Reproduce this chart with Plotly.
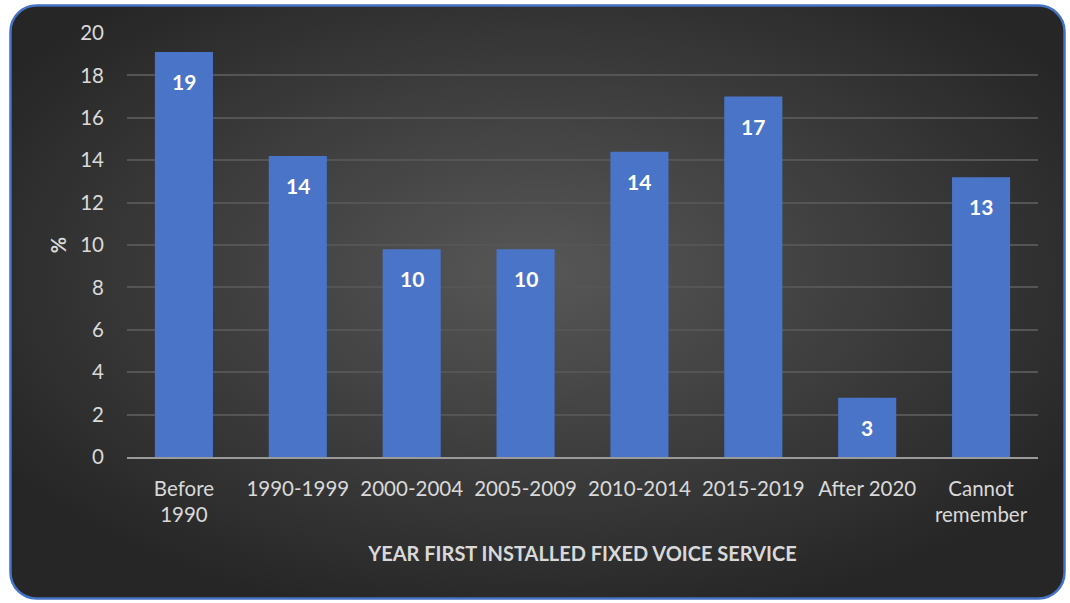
import base64
import plotly.graph_objects as go

categories = ["Before<br>1990", "1990-1999", "2000-2004", "2005-2009",
              "2010-2014", "2015-2019", "After 2020", "Cannot<br>remember"]
values = [19.1, 14.2, 9.8, 9.8, 14.4, 17.0, 2.8, 13.2]
y_ticks = [0, 2, 4, 6, 8, 10, 12, 14, 16, 18, 20]

W, H = 1070, 603
ML, MR, MT, MB = 127, 32, 33, 146
PW, PH = W - ML - MR, H - MT - MB

svg = f'''<svg xmlns="http://www.w3.org/2000/svg" width="{W}" height="{H}" viewBox="0 0 {W} {H}">
<defs><radialGradient id="g" cx="50%" cy="45%" r="60%">
<stop offset="0%" stop-color="#575757"/><stop offset="100%" stop-color="#262626"/>
</radialGradient></defs>
<rect x="0" y="0" width="{W}" height="{H}" fill="#ffffff"/>
<rect x="10.5" y="5.5" width="1054" height="593" rx="26" ry="26" fill="url(#g)" stroke="#4472c4" stroke-width="2.5"/>
</svg>'''
src = "data:image/svg+xml;base64," + base64.b64encode(svg.encode()).decode()

FONT = "Lato, Open Sans, sans-serif"

fig = go.Figure()
fig.add_trace(go.Bar(
    x=categories, y=values,
    marker=dict(color="#4a74c8", line=dict(width=0)),
    width=0.51,
    hoverinfo="skip",
))

for c, v in zip(categories, values):
    fig.add_annotation(
        x=c, y=v, text=f"<b>{round(v)}</b>", showarrow=False,
        yanchor="top", yshift=-15,
        font=dict(family=FONT, size=21, color="#ffffff"),
    )

fig.add_layout_image(dict(
    source=src, xref="paper", yref="paper",
    x=-ML / PW, y=1 + MT / PH, sizex=W / PW, sizey=H / PH,
    xanchor="left", yanchor="top", sizing="stretch", layer="below",
))

fig.update_layout(
    width=W, height=H,
    margin=dict(l=ML, r=MR, t=MT, b=MB),
    paper_bgcolor="#ffffff",
    plot_bgcolor="rgba(0,0,0,0)",
    showlegend=False,
    font=dict(family=FONT, color="#d9d9d9"),
    xaxis=dict(
        showgrid=False, showline=True, linecolor="#9a9a9a", linewidth=2,
        tickfont=dict(size=20.5, color="#d9d9d9"),
        title=dict(text="<b>YEAR FIRST INSTALLED FIXED VOICE SERVICE</b>",
                   font=dict(size=20, color="#d9d9d9"), standoff=22),
        ticks="", ticklabelstandoff=12,
    ),
    yaxis=dict(
        range=[0, 20], tickvals=y_ticks,
        showgrid=True, gridcolor="#555555", gridwidth=1.5,
        zeroline=False, showline=False,
        tickfont=dict(size=20.5, color="#d9d9d9"),
        ticklabelstandoff=22,
        title=dict(text="<b>%</b>", font=dict(size=20, color="#d9d9d9"), standoff=8),
    ),
)

fig.write_html("out.html", config={"displayModeBar": False},
               post_script="document.body.style.margin='0';")
